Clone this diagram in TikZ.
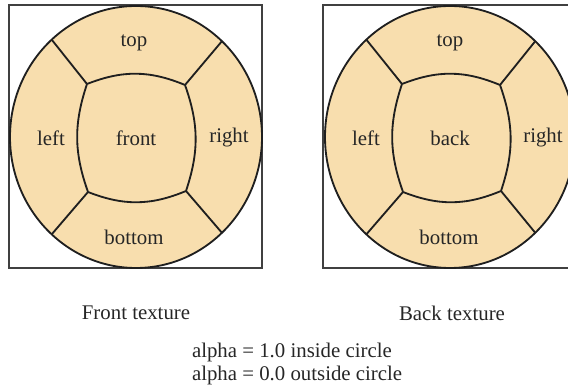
\documentclass[tikz,border=0pt]{standalone}
\usepackage{fontspec}
\setmainfont{Liberation Serif}
\usepackage{tikz}
\usetikzlibrary{positioning}

\definecolor{texfill}{RGB}{248,222,174}
\tikzset{
  region/.style={draw=black!88, line width=1.1pt},
  frame/.style={draw=black!75, line width=1pt},
  lbl/.style={font=\fontsize{12.5}{15}\selectfont, text=black!85, inner sep=1pt},
}

\begin{document}
\begin{tikzpicture}[x=0.6pt, y=0.6pt]
        \clip (0,0) rectangle (568,388);

        % front texture
        \draw[frame] (9,120) rectangle (262,383);
        \begin{scope}[shift={(136,251)}]
            \filldraw[region, fill=texfill] (0,0) ellipse [x radius=126, y radius=131];
            \coordinate (ftl) at (-49,53);
            \coordinate (ftr) at (49,52);
            \coordinate (fbr) at (50,-54);
            \coordinate (fbl) at (-48,-55);
            \draw[region] (ftl) to[bend left=22] (ftr) to[bend left=19] (fbr)
                to[bend left=22] (fbl) to[bend left=19] cycle;
            \draw[region] (ftl) -- (132:126 and 131);
            \draw[region] (ftr) -- (47:126 and 131);
            \draw[region] (fbl) -- (228:126 and 131);
            \draw[region] (fbr) -- (313:126 and 131);
            \node[lbl] (ftop) at (-2,94) {top};
            \node[lbl] (fleft) at (-85,-1) {left};
            \node[lbl] (fmid) at (0,-1) {front};
            \node[lbl] (fright) at (93,-1) {right};
            \node[lbl] (fbottom) at (-2,-100) {bottom};
        \end{scope}

        % back texture
        \draw[frame] (323,120) rectangle (600,383);
        \begin{scope}[shift={(450,251)}]
            \filldraw[region, fill=texfill] (0,0) ellipse [x radius=125, y radius=131];
            \coordinate (btl) at (-48,53);
            \coordinate (btr) at (50,52);
            \coordinate (bbr) at (51,-54);
            \coordinate (bbl) at (-47,-55);
            \draw[region] (btl) to[bend left=22] (btr) to[bend left=19] (bbr)
                to[bend left=22] (bbl) to[bend left=19] cycle;
            \draw[region] (btl) -- (132:125 and 131);
            \draw[region] (btr) -- (47:125 and 131);
            \draw[region] (bbl) -- (228:125 and 131);
            \draw[region] (bbr) -- (313:125 and 131);
            \node[lbl] (btop) at (0,94) {top};
            \node[lbl] (bleft) at (-84,-1) {left};
            \node[lbl] (bmid) at (0,-1) {back};
            \node[lbl] (bright) at (93,-1) {right};
            \node[lbl] (bbottom) at (-1,-100) {bottom};
        \end{scope}

        % captions
        \node[lbl] (fcap) at (136,75) {Front texture};
        \node[lbl] (bcap) at (452,75) {Back texture};
        \node[lbl, anchor=west] (alphain) at (190,36) {alpha = 1.0 inside circle};
        \node[lbl, anchor=west] (alphaout) at (190,13) {alpha = 0.0 outside circle};

    \end{tikzpicture}
\end{document}
